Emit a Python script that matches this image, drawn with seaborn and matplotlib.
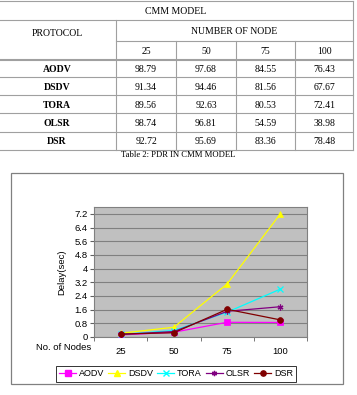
import numpy as np
import pandas as pd
import matplotlib
matplotlib.use("Agg")
import matplotlib.pyplot as plt
from matplotlib.lines import Line2D
from matplotlib.patches import Rectangle
import seaborn as sns

# ---------------- data ----------------
# table: PDR in CMM model
table_protocols = ["AODV", "DSDV", "TORA", "OLSR", "DSR"]
table_nodes = ["25", "50", "75", "100"]
pdr_aodv = ["98.79", "97.68", "84.55", "76.43"]
pdr_dsdv = ["91.34", "94.46", "81.56", "67.67"]
pdr_tora = ["89.56", "92.63", "80.53", "72.41"]
pdr_olsr = ["98.74", "96.81", "54.59", "38.98"]
pdr_dsr = ["92.72", "95.69", "83.36", "78.48"]

# chart: delay vs number of nodes
nodes = ["25", "50", "75", "100"]
protocols = ["AODV", "DSDV", "TORA", "OLSR", "DSR"]
delay_aodv = [0.12, 0.28, 0.86, 0.85]
delay_dsdv = [0.22, 0.57, 3.10, 7.20]
delay_tora = [0.15, 0.38, 1.45, 2.80]
delay_olsr = [0.15, 0.32, 1.50, 1.77]
delay_dsr = [0.17, 0.25, 1.62, 1.00]
y_ticks = [0, 0.8, 1.6, 2.4, 3.2, 4, 4.8, 5.6, 6.4, 7.2]

colors = {"AODV": "#ff00ff", "DSDV": "#ffff00", "TORA": "#00ffff",
          "OLSR": "#800080", "DSR": "#800000"}
markers = {"AODV": "s", "DSDV": "^", "TORA": "x", "OLSR": (6, 2, 0), "DSR": "o"}

W, H = 357, 395
fig = plt.figure(figsize=(W / 100, H / 100), dpi=100)


def fx(px):
    return px / W


def fy(py):
    return 1 - py / H


# ================= TABLE =================
serif = "Liberation Serif"
line_col = "#a0a0a0"


def hline(y, x0, x1, lw=0.8):
    fig.add_artist(Line2D([fx(x0), fx(x1)], [fy(y), fy(y)], color=line_col, lw=lw))


def vline(x, y0, y1, lw=0.8):
    fig.add_artist(Line2D([fx(x), fx(x)], [fy(y0), fy(y1)], color=line_col, lw=lw))


col_edges = [116, 176, 236, 295, 353]
row_lines = [60, 77, 95, 113, 132, 150]

hline(1, 0, 353)
hline(20, 0, 353)
hline(41, 116, 353)
hline(60, 0, 353, lw=1.5)
for y in row_lines[1:]:
    hline(y, 0, 353)
vline(353, 1, 150)
vline(116, 20, 150)
for x in col_edges[1:-1]:
    vline(x, 41, 150)

fig.text(fx(176), fy(11), "CMM MODEL", family=serif, fontsize=7, ha="center", va="center")
fig.text(fx(57), fy(33), "PROTOCOL", family=serif, fontsize=7, ha="center", va="center")
fig.text(fx(234), fy(31), "NUMBER OF NODE", family=serif, fontsize=7, ha="center", va="center")
for i, n in enumerate(table_nodes):
    cx = (col_edges[i] + col_edges[i + 1]) / 2
    fig.text(fx(cx), fy(51), n, family=serif, fontsize=7, ha="center", va="center")

table_rows = [pdr_aodv, pdr_dsdv, pdr_tora, pdr_olsr, pdr_dsr]
for r, (name, vals) in enumerate(zip(table_protocols, table_rows)):
    cy = (row_lines[r] + row_lines[r + 1]) / 2 + 1
    fig.text(fx(57), fy(cy), name, family=serif, fontsize=7, fontweight="bold",
             ha="center", va="center")
    for i, v in enumerate(vals):
        cx = (col_edges[i] + col_edges[i + 1]) / 2
        fig.text(fx(cx), fy(cy), v, family=serif, fontsize=7, ha="center", va="center")

fig.text(fx(178), fy(155), "Table 2: PDR IN CMM MODEL", family=serif, fontsize=6.2,
         ha="center", va="center")

# ================= CHART =================
fig.add_artist(Rectangle((fx(11), fy(384)), fx(343) - fx(11), fy(173) - fy(384),
                         transform=fig.transFigure, fill=False, edgecolor="#808080", lw=0.9))

sans = "Liberation Sans"
ax = fig.add_axes([fx(94), fy(337), fx(307) - fx(94), fy(207) - fy(337)])
ax.set_facecolor("#c0c0c0")

df = pd.DataFrame({
    "pos": list(range(len(nodes))) * len(protocols),
    "delay": delay_aodv + delay_dsdv + delay_tora + delay_olsr + delay_dsr,
    "protocol": np.repeat(protocols, len(nodes)),
})

for p in protocols:
    sub = df[df["protocol"] == p]
    filled = markers[p] in ("s", "^", "o")
    sns.lineplot(data=sub, x="pos", y="delay", ax=ax, color=colors[p], lw=0.9,
                 marker=markers[p], markersize=4.2,
                 markeredgecolor=colors[p], markeredgewidth=0.9 if not filled else 0.5,
                 label=p, legend=False, zorder=3)

ax.set_xlim(-0.5, len(nodes) - 0.5)
ax.set_ylim(0, 7.6)
ax.set_yticks(y_ticks)
ax.set_yticklabels([f"{t:g}" for t in y_ticks], family=sans, fontsize=6.8)
ax.set_xticks(range(len(nodes)))
ax.set_xticklabels(nodes, family=sans, fontsize=6.8)
ax.set_xticks(np.arange(-0.5, len(nodes)), minor=True)
ax.tick_params(axis="x", which="major", length=0, pad=7)
ax.tick_params(axis="x", which="minor", length=3, color="#606060", direction="out")
ax.tick_params(axis="y", length=3, color="#606060", pad=1.5)
ax.yaxis.grid(True, color="#808080", lw=0.8)
ax.set_axisbelow(True)
for s in ax.spines.values():
    s.set_color("#808080")
    s.set_linewidth(0.8)
ax.set_xlabel("")
ax.set_ylabel("Delay(sec)", family=sans, fontsize=6.8, labelpad=6)

fig.text(fx(64), fy(347), "No. of Nodes", family=sans, fontsize=6.8, ha="center", va="center")

handles = [Line2D([], [], color=colors[p], lw=0.9, marker=markers[p], markersize=3.8,
                  markeredgecolor=colors[p]) for p in protocols]
leg = fig.legend(handles, protocols, loc="center", bbox_to_anchor=(fx(176), fy(374)),
                 ncol=5, frameon=True, fancybox=False, edgecolor="black",
                 prop={"family": sans, "size": 6.5}, handlelength=1.9,
                 handletextpad=0.3, columnspacing=0.45, borderpad=0.35,
                 borderaxespad=0)
leg.get_frame().set_linewidth(0.7)

fig.savefig("out.png", dpi=100)
